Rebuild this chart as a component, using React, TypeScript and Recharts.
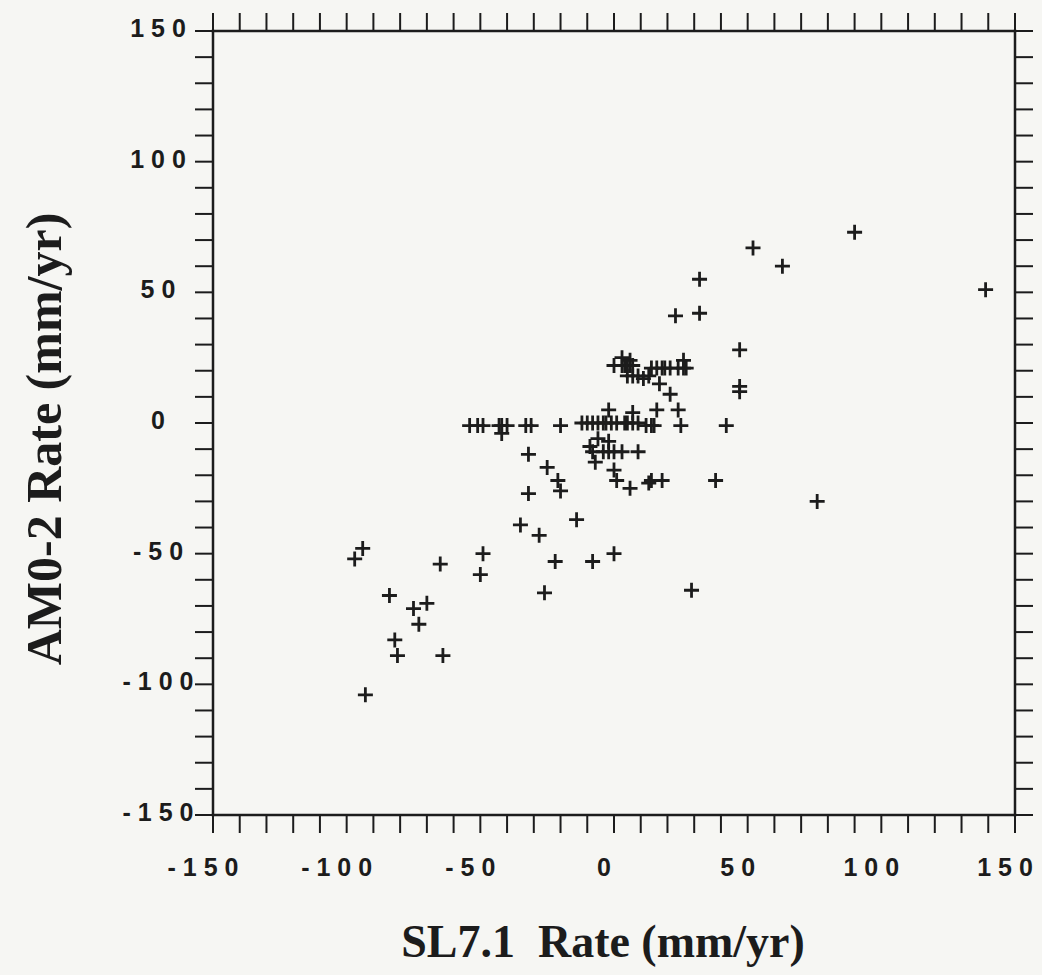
import { ScatterChart, Scatter, XAxis, YAxis } from 'recharts'

// SL7.1 rate (x) against AM0-2 rate (y), mm/yr
const sl71Rate = [
    -94, -97, -65, -49, -50, -84, -70, -75, -73, -82, -81, -64, -93,
    -54, -51, -49, -43, -42, -40, -33, -31, -20, -42,
    -12, -10, -8, -6, -4, -3, -1, 1, 4, 5, 7, 9, 12, 14, 15, 25,
    0, 3, 4, 5, 6, 7, 14, 16, 18, 19, 21, 24, 26, 27,
    3, 6, 26, 5, 7, 9, 11, 13, 17, 21, -2, 7, 16, 24,
    -6, -2, -9, -8, -4, -2, 0, 3, 9, -7, 0, 1, 6, 13, 14, 18,
    -32, -25, -21, -20, -32, -14, -35, -28, -22, -8, 0, -26,
    90, 52, 63, 32, 139, 23, 32, 47, 47, 47, 42, 38, 76, 29,
]
const am02Rate = [
    -48, -52, -54, -50, -58, -66, -69, -71, -77, -83, -89, -89, -104,
    -1, -1, -1, -1, -1, -1, -1, -1, -1, -4,
    0, 0, 0, 0, 0, 0, 0, 0, 0, 0, 0, 0, -1, -1, -1, -1,
    22, 22, 22, 22, 22, 22, 21, 21, 21, 21, 21, 21, 21, 21,
    25, 24, 24, 18, 18, 18, 17, 18, 15, 11, 5, 4, 5, 5,
    -6, -7, -9, -11, -11, -11, -11, -11, -11, -15, -18, -22, -25, -23, -22, -22,
    -12, -17, -22, -26, -27, -37, -39, -43, -53, -53, -50, -65,
    73, 67, 60, 55, 51, 41, 42, 28, 14, 12, -1, -22, -30, -64,
]

const axisTicks = [
    -150, -140, -130, -120, -110, -100, -90, -80, -70, -60, -50, -40, -30, -20, -10,
    0, 10, 20, 30, 40, 50, 60, 70, 80, 90, 100, 110, 120, 130, 140, 150,
]
const labeledTicks = [-150, -100, -50, 0, 50, 100, 150]

const points = sl71Rate.map((x, i) => ({ x, y: am02Rate[i] }))

const INK = '#1c1c1c'
const PAPER = '#f6f6f3'
const SPACING = 7

const tickText = {
    fontFamily: '"Liberation Sans", Arial, sans-serif',
    fontSize: 25,
    fontWeight: 700,
    fill: INK,
    letterSpacing: SPACING,
}

const titleText = {
    fontFamily: '"Liberation Serif", "Times New Roman", serif',
    fontWeight: 700,
    fill: INK,
    whiteSpace: 'pre' as const,
}

const axisLine = { stroke: INK, strokeWidth: 2.5, strokeLinecap: 'square' as const }
const tickLine = { stroke: INK, strokeWidth: 2 }

function BottomTick({ x, y, payload }: any) {
    if (!labeledTicks.includes(payload.value)) return <g />
    return (
        <text x={x - 10 + SPACING / 2} y={y + 43} textAnchor="middle" style={tickText}>
            {payload.value}
        </text>
    )
}

// y labels in the scan are centred in a column left of the frame
function LeftTick({ y, payload }: any) {
    if (!labeledTicks.includes(payload.value)) return <g />
    return (
        <text x={158 + SPACING / 2} y={y + 6} textAnchor="middle" style={tickText}>
            {payload.value}
        </text>
    )
}

const NoTick = () => <g />

function XTitle() {
    return (
        <text x={603} y={957} textAnchor="middle" style={{ ...titleText, fontSize: 46 }}>
            {'SL7.1  Rate (mm/yr)'}
        </text>
    )
}

function YTitle() {
    return (
        <text
            x={61}
            y={439}
            textAnchor="middle"
            transform="rotate(-90, 61, 439)"
            style={{ ...titleText, fontSize: 50 }}
        >
            AM0-2 Rate (mm/yr)
        </text>
    )
}

function Cross({ cx, cy }: any) {
    if (cx == null || cy == null) return <g />
    return (
        <path
            d={`M${cx - 7.5},${cy}H${cx + 7.5}M${cx},${cy - 7.5}V${cy + 7.5}`}
            stroke={INK}
            strokeWidth={2.8}
            fill="none"
        />
    )
}

export default function App() {
    return (
        <div style={{ position: 'absolute', left: 0, top: 0, width: 1042, height: 975, background: PAPER }}>
            <ScatterChart width={1042} height={975} margin={{ top: 0, right: 0, bottom: 0, left: 0 }}>
                <XAxis
                    dataKey="x" type="number" domain={[-150, 150]} ticks={axisTicks} interval={0}
                    height={160} tickSize={18} tickMargin={0}
                    axisLine={axisLine} tickLine={tickLine} tick={<BottomTick />}
                    label={<XTitle />}
                />
                <XAxis
                    xAxisId="top" orientation="top" dataKey="x" type="number" domain={[-150, 150]}
                    ticks={axisTicks} interval={0} height={31} tickSize={18}
                    axisLine={axisLine} tickLine={tickLine} tick={<NoTick />}
                />
                <YAxis
                    dataKey="y" type="number" domain={[-150, 150]} ticks={axisTicks} interval={0}
                    width={213} tickSize={18} tickMargin={0}
                    axisLine={axisLine} tickLine={tickLine} tick={<LeftTick />}
                    label={<YTitle />}
                />
                <YAxis
                    yAxisId="right" orientation="right" dataKey="y" type="number" domain={[-150, 150]}
                    ticks={axisTicks} interval={0} width={27} tickSize={18}
                    axisLine={axisLine} tickLine={tickLine} tick={<NoTick />}
                />
                {/* hidden copy so the top and right frame axes get a scale and draw their ticks */}
                <Scatter data={points} xAxisId="top" yAxisId="right" shape={NoTick} isAnimationActive={false} />
                <Scatter data={points} shape={Cross} isAnimationActive={false} />
            </ScatterChart>
        </div>
    )
}
